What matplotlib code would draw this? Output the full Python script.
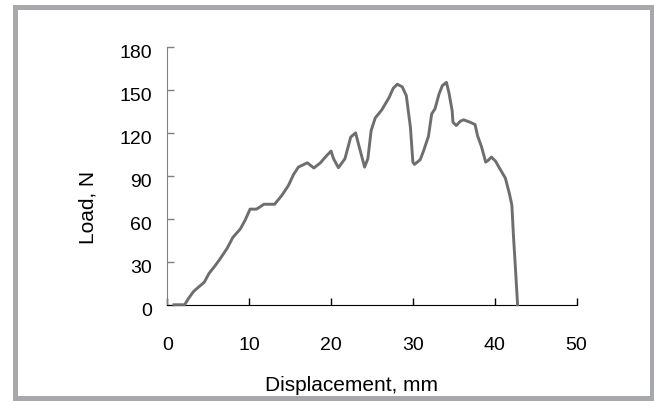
import matplotlib
matplotlib.use('Agg')
import matplotlib.pyplot as plt
import matplotlib.transforms as mtransforms
from matplotlib.patches import Rectangle

plt.rcParams['font.family'] = ['Liberation Sans', 'DejaVu Sans']

# Load-displacement curve
displacement = [0.8, 2.1, 2.6, 3.2, 3.8, 4.5, 5.1, 5.8, 6.4, 7.3,
                8.0, 8.9, 9.5, 10.1, 10.9, 11.8, 13.1, 14.0, 14.8, 15.4,
                16.0, 17.1, 17.9, 18.7, 19.3, 20.0, 20.3, 20.9, 21.7, 22.4,
                23.0, 23.4, 24.1, 24.5, 24.9, 25.4, 26.2, 27.1, 27.6, 28.1,
                28.7, 29.2, 29.7, 30.0, 30.2, 30.9, 31.3, 31.9, 32.3, 32.7,
                33.2, 33.6, 34.1, 34.4, 34.8, 34.9, 35.3, 35.8, 36.2, 37.0,
                37.6, 37.9, 38.4, 38.9, 39.2, 39.6, 40.1, 40.7, 41.3, 41.8,
                42.1, 42.3, 42.5, 42.8]
load = [0, 0, 4.6, 9.3, 12.3, 15.7, 22, 27, 31.7, 39.4,
        47, 52.8, 59, 66.7, 66.7, 70.1, 70.1, 76.4, 83.3, 90.7,
        96, 99, 95.4, 99, 103, 107.2, 101.9, 95.6, 101.9, 116.9,
        119.9, 111, 96, 101.9, 121.5, 130.3, 135.9, 144.6, 151, 153.8,
        152, 145.8, 123.8, 99.5, 97.9, 101.2, 107.2, 117.4, 133.1, 136.6,
        147, 152.8, 155.1, 148.1, 135.4, 127.3, 125, 128, 129, 127.3,
        125.7, 118, 110, 99.5, 100.7, 103, 100.2, 94.2, 88.4, 77.5,
        69.4, 47.5, 28.9, 0]
x_ticks = [0, 10, 20, 30, 40, 50]
y_ticks = [0, 30, 60, 90, 120, 150, 180]

fig = plt.figure(figsize=(6.54, 4.01), dpi=100)
ax = fig.add_axes([0.256, 0.240, 0.6255, 0.6436])

ax.plot(displacement, load, color='#6e6e6e', linewidth=2.1, clip_on=False, zorder=3)

ax.set_xlim(0, 50)
ax.set_ylim(0, 180)
ax.set_xticks(x_ticks)
ax.set_yticks(y_ticks)

ax.spines['top'].set_visible(False)
ax.spines['right'].set_visible(False)
ax.spines['left'].set_color('#808080')
ax.spines['bottom'].set_color('black')
ax.tick_params(axis='x', direction='in', length=5, width=1, color='black', pad=23, labelsize=14)
ax.tick_params(axis='y', direction='in', length=5, width=1, color='#808080', pad=11, labelsize=14)

# y tick labels sit a little low in the original
offset = mtransforms.ScaledTranslation(0, -5 / 100, fig.dpi_scale_trans)
for lbl in ax.get_yticklabels():
    lbl.set_transform(lbl.get_transform() + offset)

ax.set_xlabel('Displacement, mm', fontsize=15)
ax.set_ylabel('Load, N', fontsize=15)
ax.xaxis.set_label_coords(0.451, -0.276)
ax.yaxis.set_label_coords(-0.17, 0.379)

# grey frame around the figure
fig.patches.append(Rectangle((0.0237, 0.0075), 0.974, 0.9738, transform=fig.transFigure,
                             fill=False, edgecolor='#a7a8ab', linewidth=3.6))

fig.savefig('out.png', dpi=100)
